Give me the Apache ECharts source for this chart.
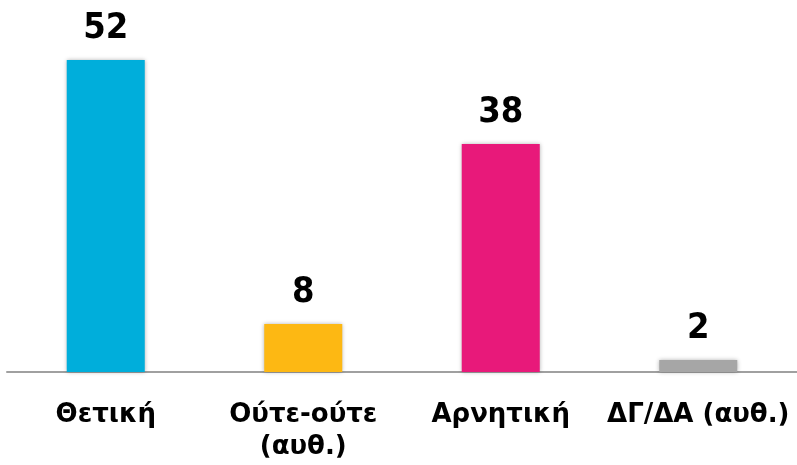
<!DOCTYPE html>
<html>
<head>
<meta charset="utf-8">
<script src="https://cdn.jsdelivr.net/npm/echarts@6/dist/echarts.min.js"></script>
<style>html,body{margin:0;padding:0;background:#fff}#c{width:797px;height:465px}</style>
</head>
<body>
<div id="c"></div>
<script>
const categories = ['Θετική', 'Ούτε-ούτε\n(αυθ.)', 'Αρνητική', 'ΔΓ/ΔΑ (αυθ.)'];
const values = [52, 8, 38, 2];
const colors = ['#00AEDB', '#FDB813', '#E8197A', '#A6A6A6'];

const chart = echarts.init(document.getElementById('c'));
chart.setOption({
  animation: false,
  grid: { left: 7, right: -2, top: 12, bottom: 93, containLabel: false },
  xAxis: {
    type: 'category',
    data: categories,
    axisLine: { lineStyle: { color: '#A0A0A0', width: 2 } },
    axisTick: { show: false },
    axisLabel: {
      color: '#000', fontFamily: 'DejaVu Sans', fontWeight: 'bold', fontSize: 26,
      lineHeight: 32, margin: 27, interval: 0
    }
  },
  yAxis: { type: 'value', min: 0, max: 60, show: false, splitLine: { show: false } },
  series: [{
    type: 'bar',
    barWidth: '39.5%',
    data: values.map((v, i) => ({ value: v, itemStyle: { color: colors[i] } })),
    itemStyle: { shadowBlur: 4, shadowColor: 'rgba(0,0,0,0.3)' },
    label: {
      show: true, position: 'top', distance: 13, color: '#000',
      fontFamily: 'DejaVu Sans Condensed', fontWeight: 'bold', fontSize: 36
    }
  }]
});
</script>
</body>
</html>
